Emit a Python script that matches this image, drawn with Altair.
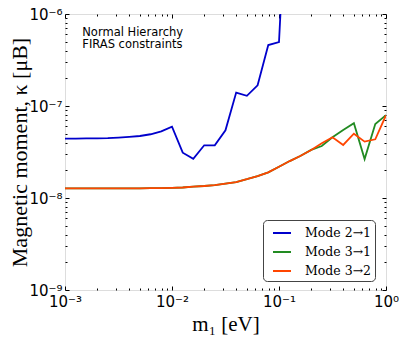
import altair as alt
import pandas as pd

# ---------------- data ----------------
m1_blue = [0.001, 0.00126, 0.00158, 0.002, 0.00251, 0.00316, 0.00398, 0.00501,
           0.00631, 0.00794, 0.01, 0.0126, 0.0158, 0.02, 0.0251, 0.0316, 0.0398,
           0.0501, 0.0631, 0.0794, 0.1, 0.126]
kappa_21 = [4.42e-8, 4.43e-8, 4.44e-8, 4.45e-8, 4.48e-8, 4.54e-8, 4.62e-8, 4.72e-8,
            4.93e-8, 5.30e-8, 5.96e-8, 3.11e-8, 2.67e-8, 3.74e-8, 3.74e-8, 5.45e-8,
            1.40e-7, 1.29e-7, 1.68e-7, 4.60e-7, 4.96e-7, 1.0e-4]

m1_grid = [0.001, 0.00126, 0.00158, 0.002, 0.00251, 0.00316, 0.00398, 0.00501,
           0.00631, 0.00794, 0.01, 0.0126, 0.0158, 0.02, 0.0251, 0.0316, 0.0398,
           0.0501, 0.0631, 0.0794, 0.1, 0.126, 0.158, 0.2, 0.251, 0.316, 0.398,
           0.501, 0.631, 0.794, 1.0]
kappa_31 = [1.27e-8, 1.27e-8, 1.27e-8, 1.27e-8, 1.27e-8, 1.27e-8, 1.27e-8, 1.27e-8,
            1.28e-8, 1.28e-8, 1.29e-8, 1.30e-8, 1.33e-8, 1.35e-8, 1.38e-8, 1.43e-8,
            1.49e-8, 1.60e-8, 1.73e-8, 1.90e-8, 2.19e-8, 2.52e-8, 2.86e-8, 3.33e-8,
            3.67e-8, 4.57e-8, 5.50e-8, 6.50e-8, 2.65e-8, 6.37e-8, 7.95e-8]
kappa_32 = [1.27e-8, 1.27e-8, 1.27e-8, 1.27e-8, 1.27e-8, 1.27e-8, 1.27e-8, 1.27e-8,
            1.28e-8, 1.28e-8, 1.29e-8, 1.30e-8, 1.33e-8, 1.35e-8, 1.38e-8, 1.43e-8,
            1.49e-8, 1.60e-8, 1.73e-8, 1.90e-8, 2.19e-8, 2.52e-8, 2.86e-8, 3.33e-8,
            3.93e-8, 4.57e-8, 3.77e-8, 5.00e-8, 4.10e-8, 4.35e-8, 7.95e-8]

series_names = ["Mode 2→1", "Mode 3→1", "Mode 3→2"]
series_colors = ["#0000CC", "#228B22", "#FF4500"]

x_exponents = [-3, -2, -1, 0]
x_labels = ["10⁻³", "10⁻²", "10⁻¹", "10⁰"]
y_exponents = [-9, -8, -7, -6]
y_labels = ["10⁻⁹", "10⁻⁸", "10⁻⁷", "10⁻⁶"]
x_minor = [0.002, 0.003, 0.004, 0.005, 0.006, 0.007, 0.008, 0.009,
           0.02, 0.03, 0.04, 0.05, 0.06, 0.07, 0.08, 0.09,
           0.2, 0.3, 0.4, 0.5, 0.6, 0.7, 0.8, 0.9]
y_minor = [2e-9, 3e-9, 4e-9, 5e-9, 6e-9, 7e-9, 8e-9, 9e-9,
           2e-8, 3e-8, 4e-8, 5e-8, 6e-8, 7e-8, 8e-8, 9e-8,
           2e-7, 3e-7, 4e-7, 5e-7, 6e-7, 7e-7, 8e-7, 9e-7]

annot_x = [0.00145]
annot_y = [7.3e-7]
annot_text = ["Normal Hierarchy\nFIRAS constraints"]

# ---------------- build ----------------
W, H = 321, 276
x_major = [10.0 ** e for e in x_exponents]
y_major = [10.0 ** e for e in y_exponents]


def lab_expr(exps, labs):
    parts = [f"abs(log(datum.value)/LN10 - ({e})) < 0.01 ? '{l}'" for e, l in zip(exps, labs)]
    return " : ".join(parts) + " : ''"


rows = []
for m, k in zip(m1_blue, kappa_21):
    rows.append({"m1": m, "kappa": k, "mode": series_names[0]})
for m, k in zip(m1_grid, kappa_31):
    rows.append({"m1": m, "kappa": k, "mode": series_names[1]})
for m, k in zip(m1_grid, kappa_32):
    rows.append({"m1": m, "kappa": k, "mode": series_names[2]})
df = pd.DataFrame(rows)
annot = pd.DataFrame({"x": annot_x, "y": annot_y, "t": annot_text})

xs = alt.Scale(type="log", domain=[0.001, 1.0], nice=False)
ys = alt.Scale(type="log", domain=[1e-9, 1e-6], nice=False)

serif = "Liberation Serif"
sans = "DejaVu Sans"

lines = alt.Chart(df).mark_line(strokeWidth=1.8, clip=True).encode(
    x=alt.X("m1:Q", scale=xs, axis=alt.Axis(
        orient="bottom", values=x_major, labelExpr=lab_expr(x_exponents, x_labels),
        ticks=False, tickSize=0, domain=False, grid=False, labelFont=sans, labelFontSize=15,
        labelPadding=4, labelColor="black", labelFlush=False,
        title="m₁ [eV]", titleFont=serif, titleFontSize=21, titleFontWeight="normal",
        titleColor="black", titleX=W / 2, titleY=40, titleBaseline="alphabetic")),
    y=alt.Y("kappa:Q", scale=ys, axis=alt.Axis(
        orient="left", values=y_major, labelExpr=lab_expr(y_exponents, y_labels),
        ticks=False, tickSize=0, domain=False, grid=False, labelFont=sans, labelFontSize=15,
        labelPadding=3, labelColor="black", labelFlush=False,
        title="Magnetic moment, κ [μB]", titleFont=serif, titleFontSize=22,
        titleFontWeight="normal", titleColor="black", titleX=-46, titleY=H / 2,
        titleAngle=270, titleAlign="center", titleBaseline="middle")),
    color=alt.Color("mode:N", scale=alt.Scale(domain=series_names, range=series_colors),
                    legend=alt.Legend(
                        orient="none", legendX=198, legendY=206, title=None,
                        symbolType="stroke", symbolSize=324, symbolStrokeWidth=2,
                        symbolOffset=6,
                        labelFont="DejaVu Serif", labelFontSize=12.5, labelColor="black",
                        labelOffset=13, padding=3, rowPadding=2,
                        strokeColor="#444444", fillColor="white", cornerRadius=4)),
)

text = alt.Chart(annot).mark_text(align="left", baseline="top", font=sans, fontSize=11.5,
                                  lineBreak="\n", lineHeight=12, color="black").encode(
    x=alt.X("x:Q", scale=xs, axis=None),
    y=alt.Y("y:Q", scale=ys, axis=None),
    text="t:N",
)


def tick_layer(xvals, yvals, xorient, xoff, yorient, yoff, size):
    return alt.Chart(annot).mark_point(opacity=0).encode(
        x=alt.X("x:Q", scale=xs, axis=alt.Axis(
            orient=xorient, offset=xoff, values=xvals, labels=False, domain=False,
            grid=False, ticks=True, tickSize=size, tickColor="black", tickWidth=1,
            title=None)),
        y=alt.Y("y:Q", scale=ys, axis=alt.Axis(
            orient=yorient, offset=yoff, values=yvals, labels=False, domain=False,
            grid=False, ticks=True, tickSize=size, tickColor="black", tickWidth=1,
            title=None)),
    )


t1 = tick_layer(x_major, y_major, "top", -H, "right", -W, 4)
t2 = tick_layer(x_major, y_major, "bottom", -H, "left", -W, 4)
t3 = tick_layer(x_minor, y_minor, "top", -H, "right", -W, 2)
t4 = tick_layer(x_minor, y_minor, "bottom", -H, "left", -W, 2)

chart = alt.layer(lines, text, t1, t2, t3, t4).resolve_axis(
    x="independent", y="independent"
).properties(
    width=W, height=H,
    autosize=alt.AutoSizeParams(type="none"),
    padding={"left": 57, "top": 6, "right": 13, "bottom": 45},
).configure_view(stroke="black", strokeWidth=1).configure(background="white")

chart.save("out.html", embed_options={"renderer": "svg", "actions": False})
